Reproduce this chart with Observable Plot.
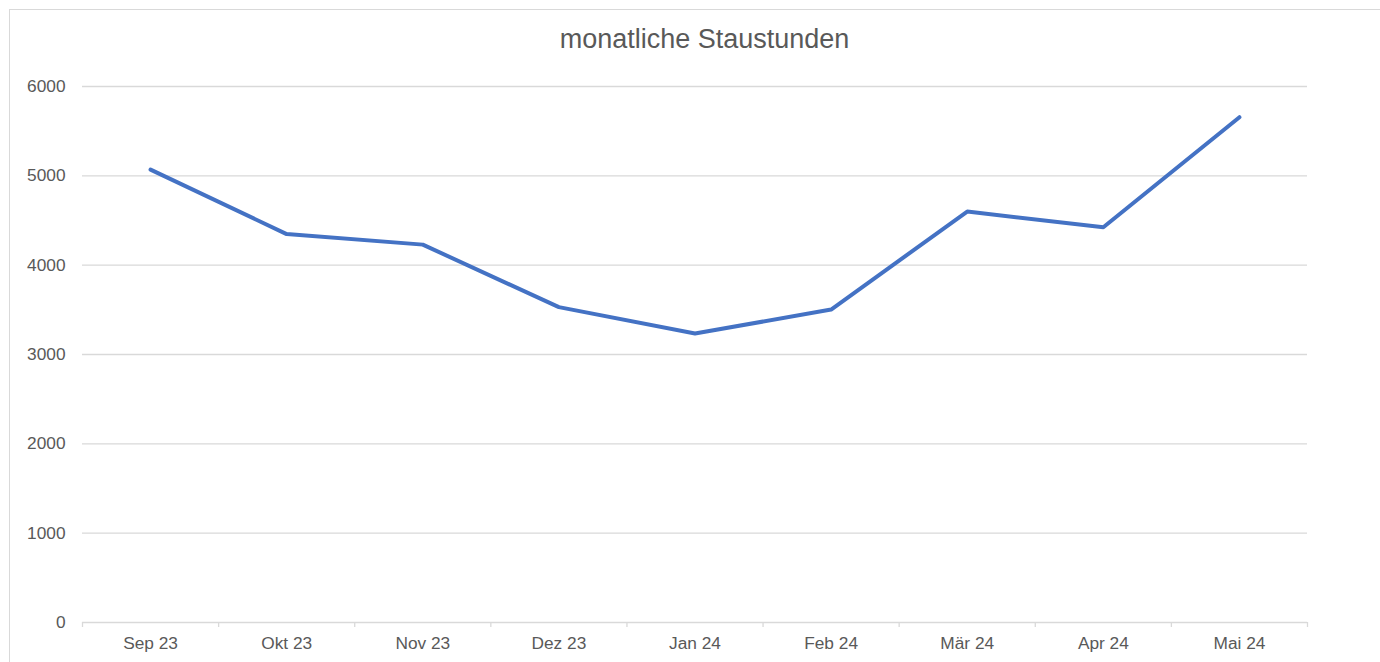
<!DOCTYPE html>
<html>
<head>
<meta charset="utf-8">
<script src="https://cdn.jsdelivr.net/npm/d3@7"></script>
<script src="https://cdn.jsdelivr.net/npm/@observablehq/plot@0.6"></script>
<style>
  html, body { margin: 0; padding: 0; background: #fff; }
  #wrap { position: relative; width: 1380px; height: 662px; overflow: hidden; font-family: "Liberation Sans", Arial, sans-serif; }
  #frame { position: absolute; left: 9px; top: 9px; width: 1400px; height: 700px; border-left: 1.5px solid #d9d9d9; border-top: 1.5px solid #d9d9d9; box-sizing: border-box; }
  #title { position: absolute; left: 0; width: 1409px; top: 26.4px; text-align: center; font-size: 27px; line-height: 27px; color: #595959; white-space: nowrap; }
  #chart { position: absolute; left: 0; top: 0; }
</style>
</head>
<body>
<div id="wrap">
  <div id="frame"></div>
  <div id="chart"></div>
  <div id="title">monatliche Staustunden</div>
</div>
<script>
const months = ["Sep 23", "Okt 23", "Nov 23", "Dez 23", "Jan 24", "Feb 24", "Mär 24", "Apr 24", "Mai 24"];
const values = [5070, 4348, 4230, 3530, 3235, 3503, 4600, 4424, 5656];
const yTicks = [0, 1000, 2000, 3000, 4000, 5000, 6000];
const gridTicks = [1000, 2000, 3000, 4000, 5000, 6000];

const data = months.map((m, i) => ({i, month: m, value: values[i]}));
const boundaries = d3.range(months.length + 1).map(i => i - 0.5);

const chart = Plot.plot({
  width: 1380,
  height: 662,
  marginTop: 86,
  marginBottom: 40,
  marginLeft: 82,
  marginRight: 73,
  style: {fontFamily: "'Liberation Sans', Arial, sans-serif", fontSize: "17.3px", color: "#595959", background: "transparent"},
  x: {type: "linear", domain: [-0.5, months.length - 0.5]},
  y: {domain: [0, 6000]},
  marks: [
    Plot.gridY(gridTicks, {stroke: "#d9d9d9", strokeOpacity: 1, strokeWidth: 1.3}),
    Plot.axisY(yTicks, {tickSize: 0, tickPadding: 17, tickFormat: d => String(d), label: null, fill: "#595959"}),
    Plot.axisX(boundaries, {tickSize: 5, stroke: "#d9d9d9", strokeWidth: 1.3, strokeOpacity: 1, tickFormat: () => "", label: null}),
    Plot.axisX(d3.range(months.length), {tickSize: 0, tickPadding: 14, tickFormat: i => months[i], label: null, fill: "#595959"}),
    Plot.ruleY([0], {stroke: "#d9d9d9", strokeWidth: 1.3}),
    Plot.line(data, {x: "i", y: "value", stroke: "#4472C4", strokeWidth: 4, strokeLinecap: "round", strokeLinejoin: "round"})
  ]
});
document.getElementById("chart").appendChild(chart);
</script>
</body>
</html>
